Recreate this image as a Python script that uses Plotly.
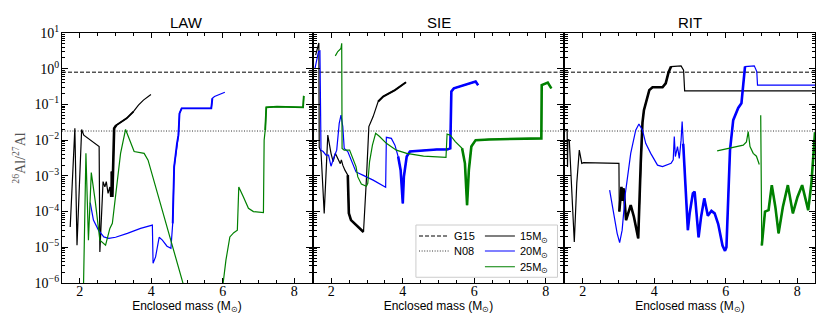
import plotly.graph_objects as go

X_RANGE = [1.5, 8.5]
Y_DECADES = [-6, -5, -4, -3, -2, -1, 0, 1]
X_TICKS = [2, 4, 6, 8]
PANELS = ["LAW", "SIE", "RIT"]
MASSES = ["15", "20", "25"]

G15_RATIO = 0.8
N08_RATIO = 0.018

# ---- LAW ----
law_15_x = [1.73, 1.86, 1.92, 2.05, 2.11, 2.30, 2.54, 2.56, 2.65, 2.70, 2.74, 2.79, 2.84, 2.86,
            2.89, 2.91, 2.96, 3.02, 3.21, 3.31, 3.50, 3.64, 3.78, 3.99]
law_15_logy = [-4.43, -1.67, -4.94, -1.70, -1.86, -2.00, -2.18, -5.13, -3.16, -3.31, -3.16, -3.49,
               -3.31, -3.59, -2.88, -3.59, -1.67, -1.58, -1.46, -1.39, -1.20, -1.02, -0.88, -0.72]

law_20_x = [2.29, 2.38, 2.52, 2.67, 2.81, 3.00, 3.33, 3.70, 4.03, 4.05, 4.12, 4.22, 4.31, 4.44,
            4.55, 4.60, 4.64, 4.72, 4.76, 4.79, 4.85, 5.68, 5.71, 5.77, 6.06]
law_20_logy = [-3.75, -4.24, -4.52, -4.71, -4.75, -4.72, -4.61, -4.47, -4.38, -5.45, -5.27, -4.72,
               -4.80, -4.97, -5.03, -4.33, -2.75, -2.09, -1.86, -1.25, -1.11, -1.11, -0.83, -0.78, -0.66]

law_25a_x = [2.10, 2.17, 2.24, 2.32, 2.43, 2.56, 2.72, 2.84, 2.91, 3.00, 3.14, 3.28, 3.42, 3.52,
             3.80, 3.91, 4.90]
law_25a_logy = [-6.2, -2.37, -4.80, -2.91, -3.70, -4.80, -4.94, -4.47, -4.33, -3.59, -2.37, -1.70,
                -2.09, -2.32, -2.37, -2.56, -6.05]
law_25b_x = [6.00, 6.09, 6.20, 6.31, 6.41, 6.45, 6.58, 6.72, 6.86, 7.14, 7.16, 7.19, 7.22, 7.52,
             8.25, 8.27]
law_25b_logy = [-6.1, -5.36, -4.71, -4.59, -4.52, -3.31, -3.59, -3.91, -4.00, -4.03, -2.00, -1.72,
                -1.08, -1.06, -1.08, -0.76]

# ---- SIE ----
sie_15_x = [1.56, 1.62, 1.65, 1.66, 1.71, 1.80, 1.90, 1.99, 2.05, 2.11, 2.18, 2.25, 2.28, 2.32,
            2.38, 2.46, 2.49, 2.55, 2.65, 2.79, 2.90, 2.98, 3.05, 3.17, 3.31, 3.45, 3.78, 4.09]
sie_15_logy = [0.38, 0.65, 0.72, -2.20, -2.32, -4.05, -1.86, -2.37, -2.60, -2.37, -2.51, -2.66,
               -2.55, -2.70, -2.84, -2.98, -4.05, -4.24, -4.33, -4.47, -4.57, -3.12, -1.62, -1.34,
               -0.92, -0.78, -0.60, -0.38]

sie_20_x = [1.54, 1.64, 1.68, 1.71, 1.77, 1.85, 1.92, 1.99, 2.08, 2.15, 2.22, 2.27, 2.32, 2.36,
            2.46, 2.55, 2.69, 2.88, 3.17, 3.52, 3.54, 3.68, 3.78, 3.87, 3.94, 4.00, 4.03, 4.11,
            4.20, 4.95, 5.24, 5.33, 5.36, 5.43, 6.04, 6.11]
sie_20_logy = [0.00, 0.48, 0.50, -2.28, -2.32, -2.42, -2.42, -2.73, -2.46, -2.28, -1.53, -1.30,
               -1.62, -2.23, -2.32, -2.56, -2.89, -2.98, -3.12, -3.32, -1.92, -1.95, -2.14, -2.46,
               -2.84, -3.77, -3.03, -2.46, -2.32, -2.26, -2.26, -2.23, -0.64, -0.55, -0.36, -0.46]

sie_25_x = [2.11, 2.18, 2.27, 2.29, 2.30, 2.36, 2.51, 2.60, 2.69, 2.74, 2.84, 2.98, 3.02, 3.07,
            3.15, 3.24, 3.35, 3.54, 3.82, 4.11, 4.58, 5.21, 5.24, 5.33, 5.47, 5.66, 5.74, 5.80,
            5.85, 5.92, 6.04, 6.42, 7.88, 7.89, 8.06, 8.16]
sie_25_logy = [0.36, 0.48, 0.57, 0.71, -2.23, -2.28, -2.28, -2.51, -2.74, -3.03, -3.23, -3.29,
               -3.21, -2.60, -2.14, -1.81, -1.90, -2.09, -2.28, -2.37, -2.45, -2.48, -1.83, -1.86,
               -2.04, -2.23, -2.65, -3.82, -2.84, -2.18, -2.00, -1.98, -1.95, -0.46, -0.39, -0.55]

# ---- RIT ----
rit_15_x = [1.52, 1.56, 1.57, 1.58, 1.62, 1.76, 1.83, 1.90, 1.97, 2.02, 3.01, 3.02, 3.08, 3.11,
            3.14, 3.21, 3.34, 3.43, 3.55, 3.62, 3.67, 3.71, 3.86, 3.95, 4.23, 4.32, 4.40, 4.47,
            4.75, 4.82, 4.85, 8.50]
rit_15_logy = [-1.72, -1.72, -2.75, -1.98, -2.00, -4.85, -3.20, -2.28, -2.65, -2.63, -2.65, -4.00,
               -3.31, -3.70, -3.35, -4.24, -3.82, -4.15, -4.75, -2.65, -1.50, -1.16, -0.60, -0.52,
               -0.52, -0.41, -0.10, 0.06, 0.08, -0.04, -0.62, -0.62]

rit_20_x = [2.75, 2.87, 2.96, 3.03, 3.10, 3.19, 3.34, 3.48, 3.57, 3.67, 3.76, 3.90, 4.09, 4.23,
            4.47, 4.53, 4.56, 4.59, 4.65, 4.70, 4.75, 4.78, 4.81, 4.89, 4.94, 4.99, 5.08, 5.13,
            5.19, 5.24, 5.31, 5.40, 5.50, 5.60, 5.69, 5.79, 5.91, 5.98, 6.02, 6.07, 6.12, 6.21,
            6.35, 6.44, 6.49, 6.54, 6.80, 6.87, 6.89, 8.50]
rit_20_logy = [-3.40, -4.05, -4.61, -4.87, -4.52, -3.49, -2.37, -1.72, -1.55, -1.72, -2.09, -2.37,
               -2.70, -2.74, -2.65, -2.55, -1.90, -2.46, -2.18, -2.51, -2.00, -1.48, -2.10, -3.87,
               -4.52, -4.05, -3.49, -3.44, -4.05, -4.72, -4.15, -3.63, -4.12, -3.98, -4.05, -4.35,
               -4.95, -5.10, -5.00, -3.49, -2.28, -1.44, -1.10, -0.97, -0.50, 0.06, 0.08, -0.08,
               -0.46, -0.46]

rit_25a_x = [5.76, 6.12, 6.49, 6.58, 6.63, 6.68, 6.77, 6.86, 6.94]
rit_25a_logy = [-2.30, -2.23, -2.14, -2.05, -1.76, -2.18, -2.37, -2.45, -2.68]
rit_25b_x = [6.98, 7.01, 7.10, 7.20, 7.29, 7.39, 7.48, 7.60, 7.74, 7.88, 8.01, 8.14, 8.31, 8.40,
             8.50]
rit_25b_logy = [-1.30, -4.95, -4.00, -3.96, -3.26, -3.87, -4.61, -3.87, -3.26, -4.05, -3.59, -3.26,
                -3.96, -3.20, -1.78]

CURVES = {
    ("LAW", "15"): [(law_15_x, law_15_logy)],
    ("LAW", "20"): [(law_20_x, law_20_logy)],
    ("LAW", "25"): [(law_25a_x, law_25a_logy), (law_25b_x, law_25b_logy)],
    ("SIE", "15"): [(sie_15_x, sie_15_logy)],
    ("SIE", "20"): [(sie_20_x, sie_20_logy)],
    ("SIE", "25"): [(sie_25_x, sie_25_logy)],
    ("RIT", "15"): [(rit_15_x, rit_15_logy)],
    ("RIT", "20"): [(rit_20_x, rit_20_logy)],
    ("RIT", "25"): [(rit_25a_x, rit_25a_logy), (rit_25b_x, rit_25b_logy)],
}

# thicker stretches of the lines: (x from, x to, width)
THICK = {
    ("LAW", "15"): [(2.88, 3.02, 2.6), (3.02, 3.50, 1.8)],
    ("LAW", "20"): [(4.60, 5.71, 1.9)],
    ("LAW", "25"): [(7.19, 8.27, 1.8)],
    ("SIE", "15"): [(2.46, 2.90, 2.6), (3.31, 4.09, 2.0)],
    ("SIE", "20"): [(3.87, 6.11, 2.6)],
    ("SIE", "25"): [(5.66, 8.16, 2.6)],
    ("RIT", "15"): [(3.02, 4.47, 2.6)],
    ("RIT", "20"): [(4.81, 6.54, 2.6)],
    ("RIT", "25"): [(7.01, 8.50, 2.6)],
}

COLORS = {"15": "#000000", "20": "#0000ff", "25": "#008000"}
DOMAINS = [[0.0, 0.332], [0.334, 0.666], [0.668, 1.0]]
SERIF = "Liberation Serif, Times New Roman, serif"
SANS = "Liberation Sans, Arial, sans-serif"

Y_MINOR = [k * 10 ** d for d in Y_DECADES[:-1] for k in range(2, 10)]
X_MINOR = [v / 2 for v in range(2, 18)]

# one single-entry legend per row so the rows sit as tight as in the original
LEGEND_POS = {"G15": (0.4675, 0.188), "N08": (0.4675, 0.128),
              "15": (0.555, 0.188), "20": (0.555, 0.128), "25": (0.555, 0.065)}
LEGEND_ID = {"G15": "legend", "N08": "legend2", "15": "legend3", "20": "legend4", "25": "legend5"}

fig = go.Figure()


def sfx(i):
    return "" if i == 0 else str(i + 1)


for i, panel in enumerate(PANELS):
    ax = sfx(i)
    # reference ratios
    fig.add_trace(go.Scatter(
        x=X_RANGE, y=[G15_RATIO, G15_RATIO], mode="lines",
        line=dict(color="black", width=1, dash="4px,2px"),
        name="G15", legend=LEGEND_ID["G15"], showlegend=(i == 0), hoverinfo="skip",
        xaxis="x" + ax, yaxis="y" + ax))
    fig.add_trace(go.Scatter(
        x=X_RANGE, y=[N08_RATIO, N08_RATIO], mode="lines",
        line=dict(color="#333333", width=1, dash="1px,1.6px"),
        name="N08", legend=LEGEND_ID["N08"], showlegend=(i == 0), hoverinfo="skip",
        xaxis="x" + ax, yaxis="y" + ax))
    for mass in MASSES:
        for k, (xs, logy) in enumerate(CURVES[(panel, mass)]):
            ys = [10 ** v for v in logy]
            fig.add_trace(go.Scatter(
                x=xs, y=ys, mode="lines",
                line=dict(color=COLORS[mass], width=1.2),
                name=f"{mass}M<sub>⊙</sub>", legend=LEGEND_ID[mass], legendgroup=mass,
                showlegend=(i == 0 and k == 0),
                xaxis="x" + ax, yaxis="y" + ax))
            for lo, hi, w in THICK[(panel, mass)]:
                idx = [j for j, v in enumerate(xs) if lo <= v <= hi]
                if len(idx) < 2:
                    continue
                fig.add_trace(go.Scatter(
                    x=[xs[j] for j in idx], y=[ys[j] for j in idx], mode="lines",
                    line=dict(color=COLORS[mass], width=w),
                    legendgroup=mass, showlegend=False,
                    xaxis="x" + ax, yaxis="y" + ax))

# page body adds an 8px margin, so the figure is 8px smaller and margins shifted
layout = dict(
    width=822, height=324,
    paper_bgcolor="white", plot_bgcolor="white",
    margin=dict(l=54, r=15, t=25, b=49, autoexpand=False),
    font=dict(family=SANS, color="black", size=12),
    showlegend=True,
    shapes=[dict(type="rect", xref="paper", yref="paper",
                 x0=0.470, x1=0.658, y0=0.023, y1=0.232,
                 fillcolor="rgba(255,255,255,0.85)",
                 line=dict(color="#cccccc", width=1), layer="above")],
    annotations=[],
)
for key, (lx, ly) in LEGEND_POS.items():
    layout[LEGEND_ID[key]] = dict(
        x=lx, y=ly, xanchor="left", yanchor="middle",
        bgcolor="rgba(0,0,0,0)", borderwidth=0,
        font=dict(family=SANS, size=11))

for i, panel in enumerate(PANELS):
    ax = sfx(i)
    layout["xaxis" + ax] = dict(
        domain=DOMAINS[i], range=X_RANGE, anchor="y" + ax, automargin=False,
        tickmode="array", tickvals=X_TICKS, ticktext=[str(v) for v in X_TICKS],
        ticks="inside", ticklen=5, tickwidth=1, tickcolor="black",
        minor=dict(tickmode="array", tickvals=X_MINOR, ticks="inside", ticklen=3,
                   tickwidth=0.8, tickcolor="black"),
        showline=True, linecolor="black", linewidth=1.3, mirror="allticks",
        showgrid=False, zeroline=False, ticklabelstandoff=-5,
        tickfont=dict(family=SERIF, size=14),
        title=dict(text="Enclosed mass (M<sub>⊙</sub>)", standoff=0,
                   font=dict(family=SANS, size=12)),
    )
    layout["yaxis" + ax] = dict(
        domain=[0, 1], type="log", range=[-6, 1], anchor="x" + ax, automargin=False,
        tickmode="array", tickvals=[10 ** d for d in Y_DECADES],
        ticktext=[f"10<sup>{str(d).replace('-', '−')}</sup>" for d in Y_DECADES],
        showticklabels=(i == 0), ticklabelstandoff=-1,
        ticks="inside", ticklen=6, tickwidth=1.3, tickcolor="black",
        minor=dict(tickmode="array", tickvals=Y_MINOR, ticks="inside", ticklen=3,
                   tickwidth=0.8, tickcolor="black"),
        showline=True, linecolor="black", linewidth=1.3, mirror="allticks",
        showgrid=False, zeroline=False,
        tickfont=dict(family=SERIF, size=14),
    )
    layout["annotations"].append(dict(
        text=panel, x=sum(DOMAINS[i]) / 2, y=1, xref="paper", yref="paper",
        xanchor="center", yanchor="bottom", showarrow=False, yshift=0,
        font=dict(family=SANS, size=15, color="black")))

layout["yaxis"]["title"] = dict(text="<sup>26</sup>Al/<sup>27</sup>Al", standoff=5,
                                font=dict(family=SERIF, size=14, color="#555555"))

fig.update_layout(**layout)
fig.write_html("out.html")
